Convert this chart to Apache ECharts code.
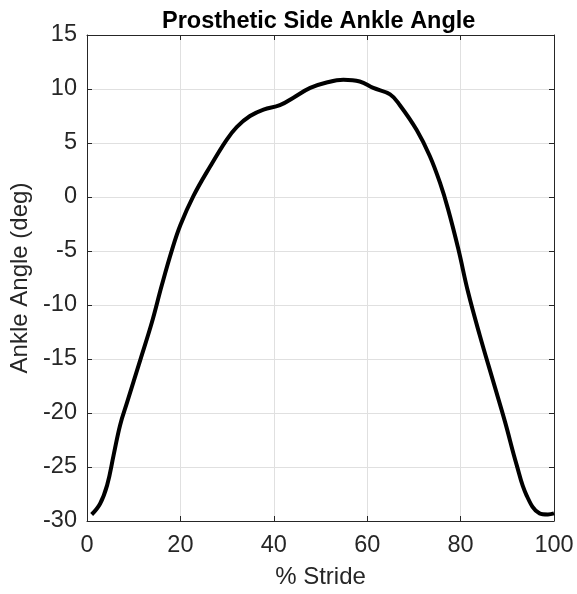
<!DOCTYPE html>
<html>
<head>
<meta charset="utf-8">
<script src="https://cdn.jsdelivr.net/npm/echarts@6/dist/echarts.min.js"></script>
<style>html,body{margin:0;padding:0;background:#fff}#c{width:577px;height:594px}</style>
</head>
<body>
<div id="c"></div>
<script>
const titleText = 'Prosthetic Side Ankle Angle';
const xName = '% Stride';
const yName = 'Ankle Angle (deg)';
const stride = [1,2.8,4.3,5.7,7.1,8.6,11.4,13.9,16,18.2,20,22.8,26.4,29.9,32.1,34.9,37.8,41.3,44.2,47.8,51.3,54.9,58.4,61.3,64.9,67,70.6,73.4,75.6,77.3,79.5,81.6,84.1,87,89.5,92,94.1,96.9,98.7,100];
const angle = [-29.4,-28.4,-26.7,-23.9,-21.1,-19,-15.1,-11.6,-8.2,-4.9,-2.6,0.1,2.85,5.3,6.5,7.5,8.1,8.5,9.2,10.1,10.6,10.85,10.7,10.1,9.5,8.5,6.2,3.8,1.3,-1.1,-4.8,-8.8,-12.8,-17.1,-20.8,-24.8,-27.6,-29.3,-29.4,-29.3];
const xRange = [0, 100, 20];
const yRange = [-30, 15, 5];

const font = 'Liberation Sans, Arial, Helvetica, sans-serif';
const axisColor = '#262626';
const chart = echarts.init(document.getElementById('c'), null, {renderer: 'canvas'});
const common = {
  axisLine: {show: true, onZero: false, lineStyle: {color: axisColor, width: 1}},
  axisTick: {show: true, inside: true, length: 5, lineStyle: {color: axisColor}},
};
chart.setOption({
  animation: false,
  backgroundColor: '#fff',
  title: {
    text: titleText, left: 162, top: 10, padding: 0,
    textStyle: {fontFamily: font, fontWeight: 'bold', fontSize: 23.5, color: '#000'}
  },
  grid: {left: 87, right: 23, top: 35, bottom: 71, containLabel: false},
  xAxis: [
    Object.assign({
      type: 'value', min: xRange[0], max: xRange[1], interval: xRange[2], position: 'bottom',
      name: xName, nameLocation: 'middle', nameGap: 44,
      nameTextStyle: {fontFamily: font, fontSize: 24, color: axisColor},
      axisLabel: {fontFamily: font, fontSize: 23.5, color: axisColor, margin: 13},
      splitLine: {show: true, lineStyle: {color: '#e0e0e0', width: 1}}
    }, common),
    Object.assign({
      type: 'value', min: xRange[0], max: xRange[1], interval: xRange[2], position: 'top',
      axisLabel: {show: false}, splitLine: {show: false}
    }, common)
  ],
  yAxis: [
    Object.assign({
      type: 'value', min: yRange[0], max: yRange[1], interval: yRange[2], position: 'left',
      name: yName, nameLocation: 'middle', nameGap: 45, nameRotate: 90,
      nameTextStyle: {fontFamily: font, fontSize: 24, color: axisColor},
      axisLabel: {fontFamily: font, fontSize: 23.5, color: axisColor, margin: 10},
      splitLine: {show: true, lineStyle: {color: '#e0e0e0', width: 1}}
    }, common),
    Object.assign({
      type: 'value', min: yRange[0], max: yRange[1], interval: yRange[2], position: 'right',
      axisLabel: {show: false}, splitLine: {show: false}
    }, common)
  ],
  series: [{
    type: 'line', xAxisIndex: 0, yAxisIndex: 0,
    data: stride.map((x, i) => [x, angle[i]]),
    smooth: 0.4, showSymbol: false,
    lineStyle: {color: '#000', width: 4}
  }]
});
</script>
</body>
</html>
